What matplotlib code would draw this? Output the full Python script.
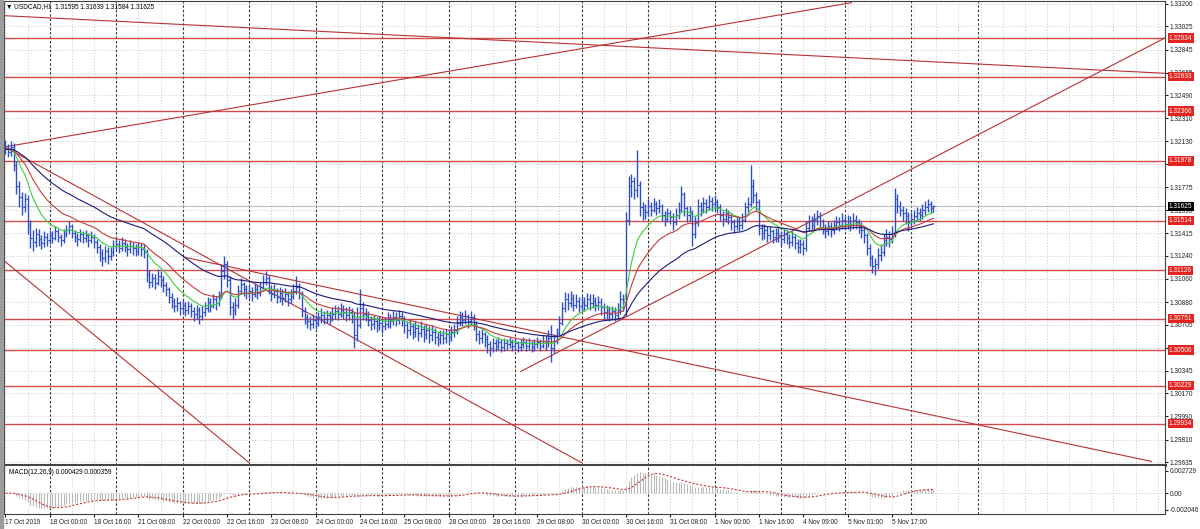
"""
Gráfico USDCAD H1 estilo MetaTrader: barras OHLC, medias, niveles, líneas de tendencia y MACD.

Uso:
    python plot.py
"""

import matplotlib

matplotlib.use("Agg")

import matplotlib.pyplot as plt
import matplotlib.transforms as mtransforms
import numpy as np
import pandas as pd
from matplotlib.patches import Rectangle

plt.rcParams["font.family"] = ["Liberation Sans", "DejaVu Sans"]

# --- Datos (velas H1, índice 0 = 17 Oct 08:00) ---
first_open = 1.3210

closes = [
    1.3207, 1.3205, 1.3209, 1.3195, 1.3178, 1.3170, 1.3162, 1.3168, 1.3148, 1.3138, 1.3135, 1.3141, 1.3137, 1.3134, 1.3139, 1.3136,
    1.3140, 1.3138, 1.3143, 1.3139, 1.3136, 1.3141, 1.3144, 1.3147, 1.3142, 1.3139, 1.3137, 1.3141, 1.3138, 1.3140, 1.3136, 1.3139,
    1.3135, 1.3131, 1.3126, 1.3122, 1.3128, 1.3124, 1.3127, 1.3132, 1.3133, 1.3130, 1.3134, 1.3131, 1.3129, 1.3132, 1.3130, 1.3128,
    1.3131, 1.3129, 1.3127, 1.3110, 1.3104, 1.3107, 1.3103, 1.3108, 1.3105, 1.3101, 1.3098, 1.3092, 1.3089, 1.3085, 1.3087, 1.3083,
    1.3086, 1.3082, 1.3085, 1.3081, 1.3079, 1.3082, 1.3077, 1.3080, 1.3083, 1.3088, 1.3085, 1.3090, 1.3087, 1.3092, 1.3112, 1.3118,
    1.3105, 1.3084, 1.3082, 1.3086, 1.3097, 1.3102, 1.3098, 1.3095, 1.3097, 1.3094, 1.3098, 1.3095, 1.3100, 1.3104, 1.3107, 1.3099,
    1.3094, 1.3097, 1.3092, 1.3095, 1.3091, 1.3094, 1.3090, 1.3093, 1.3097, 1.3100, 1.3095, 1.3081, 1.3076, 1.3073, 1.3071, 1.3074,
    1.3072, 1.3076, 1.3078, 1.3075, 1.3078, 1.3076, 1.3079, 1.3081, 1.3079, 1.3082, 1.3080, 1.3078, 1.3080, 1.3077, 1.3062, 1.3070,
    1.3083, 1.3079, 1.3078, 1.3074, 1.3071, 1.3073, 1.3070, 1.3072, 1.3069, 1.3071, 1.3075, 1.3073, 1.3076, 1.3074, 1.3077, 1.3074,
    1.3070, 1.3066, 1.3069, 1.3065, 1.3068, 1.3064, 1.3067, 1.3063, 1.3066, 1.3062, 1.3065, 1.3061, 1.3059, 1.3062, 1.3060, 1.3063,
    1.3061, 1.3065, 1.3066, 1.3072, 1.3076, 1.3074, 1.3077, 1.3073, 1.3076, 1.3071, 1.3063, 1.3060, 1.3063, 1.3059, 1.3055, 1.3052,
    1.3056, 1.3054, 1.3057, 1.3053, 1.3056, 1.3055, 1.3057, 1.3054, 1.3056, 1.3053, 1.3055, 1.3057, 1.3054, 1.3056, 1.3053, 1.3055,
    1.3057, 1.3054, 1.3058, 1.3056, 1.3060, 1.3052, 1.3058, 1.3064, 1.3072, 1.3083, 1.3090, 1.3087, 1.3091, 1.3086, 1.3089, 1.3085,
    1.3088, 1.3086, 1.3090, 1.3087, 1.3089, 1.3086, 1.3088, 1.3084, 1.3080, 1.3082, 1.3079, 1.3081, 1.3078, 1.3082, 1.3090, 1.3088,
    1.3152, 1.3178, 1.3182, 1.3175, 1.3179, 1.3162, 1.3160, 1.3158, 1.3163, 1.3160, 1.3164, 1.3161, 1.3163, 1.3156, 1.3153, 1.3157,
    1.3154, 1.3150, 1.3156, 1.3160, 1.3172, 1.3161, 1.3156, 1.3158, 1.3141, 1.3150, 1.3163, 1.3160, 1.3165, 1.3162, 1.3167, 1.3164,
    1.3166, 1.3162, 1.3156, 1.3153, 1.3157, 1.3154, 1.3150, 1.3147, 1.3151, 1.3148, 1.3152, 1.3162, 1.3164, 1.3178, 1.3171, 1.3166,
    1.3146, 1.3142, 1.3144, 1.3140, 1.3143, 1.3139, 1.3142, 1.3140, 1.3137, 1.3141, 1.3138, 1.3135, 1.3139, 1.3134, 1.3131, 1.3133,
    1.3130, 1.3146, 1.3151, 1.3148, 1.3152, 1.3155, 1.3151, 1.3146, 1.3143, 1.3147, 1.3144, 1.3148, 1.3150, 1.3148, 1.3152, 1.3149,
    1.3151, 1.3148, 1.3152, 1.3150, 1.3147, 1.3144, 1.3140, 1.3130, 1.3122, 1.3116, 1.3118, 1.3125, 1.3127, 1.3136, 1.3139, 1.3137,
    1.3142, 1.3168, 1.3163, 1.3160, 1.3157, 1.3155, 1.3150, 1.3153, 1.3155, 1.3157, 1.3156, 1.3160, 1.3162, 1.3164, 1.3161, 1.31625,
]

highs = [
    1.3214, 1.3211, 1.3213, 1.3212, 1.3198, 1.3182, 1.3174, 1.3173, 1.3171, 1.3152, 1.3144, 1.3146, 1.3145, 1.3140, 1.3143, 1.3142,
    1.3144, 1.3143, 1.3147, 1.3145, 1.3141, 1.3145, 1.3148, 1.3151, 1.3149, 1.3144, 1.3142, 1.3145, 1.3143, 1.3144, 1.3142, 1.3143,
    1.3141, 1.3137, 1.3133, 1.3129, 1.3132, 1.3131, 1.3131, 1.3136, 1.3138, 1.3136, 1.3139, 1.3137, 1.3134, 1.3136, 1.3135, 1.3133,
    1.3135, 1.3134, 1.3133, 1.3129, 1.3113, 1.3111, 1.3110, 1.3114, 1.3112, 1.3108, 1.3104, 1.3100, 1.3095, 1.3091, 1.3092, 1.3089,
    1.3090, 1.3088, 1.3089, 1.3087, 1.3084, 1.3086, 1.3084, 1.3085, 1.3088, 1.3092, 1.3091, 1.3094, 1.3093, 1.3097, 1.3118, 1.3124,
    1.3120, 1.3108, 1.3088, 1.3091, 1.3101, 1.3107, 1.3104, 1.3101, 1.3102, 1.3100, 1.3103, 1.3101, 1.3104, 1.3109, 1.3112, 1.3109,
    1.3101, 1.3102, 1.3099, 1.3100, 1.3098, 1.3099, 1.3097, 1.3098, 1.3102, 1.3108, 1.3103, 1.3097, 1.3084, 1.3079, 1.3077, 1.3079,
    1.3078, 1.3080, 1.3083, 1.3081, 1.3082, 1.3081, 1.3084, 1.3086, 1.3085, 1.3087, 1.3086, 1.3084, 1.3085, 1.3083, 1.3080, 1.3084,
    1.3098, 1.3088, 1.3083, 1.3081, 1.3077, 1.3078, 1.3076, 1.3077, 1.3075, 1.3076, 1.3080, 1.3079, 1.3081, 1.3080, 1.3082, 1.3080,
    1.3077, 1.3073, 1.3074, 1.3072, 1.3073, 1.3071, 1.3073, 1.3070, 1.3071, 1.3069, 1.3070, 1.3068, 1.3065, 1.3066, 1.3066, 1.3067,
    1.3067, 1.3069, 1.3071, 1.3077, 1.3081, 1.3080, 1.3082, 1.3079, 1.3081, 1.3079, 1.3073, 1.3066, 1.3067, 1.3065, 1.3062, 1.3058,
    1.3060, 1.3059, 1.3061, 1.3059, 1.3060, 1.3059, 1.3061, 1.3059, 1.3060, 1.3058, 1.3059, 1.3061, 1.3059, 1.3060, 1.3058, 1.3059,
    1.3061, 1.3059, 1.3062, 1.3062, 1.3066, 1.3070, 1.3063, 1.3068, 1.3077, 1.3088, 1.3096, 1.3095, 1.3097, 1.3094, 1.3094, 1.3092,
    1.3093, 1.3092, 1.3095, 1.3094, 1.3094, 1.3092, 1.3093, 1.3091, 1.3087, 1.3086, 1.3085, 1.3085, 1.3084, 1.3087, 1.3097, 1.3094,
    1.3158, 1.3186, 1.3188, 1.3185, 1.3206, 1.3182, 1.3166, 1.3164, 1.3168, 1.3166, 1.3169, 1.3167, 1.3168, 1.3164, 1.3159, 1.3161,
    1.3160, 1.3157, 1.3161, 1.3166, 1.3178, 1.3174, 1.3163, 1.3163, 1.3160, 1.3155, 1.3168, 1.3166, 1.3170, 1.3168, 1.3171, 1.3170,
    1.3171, 1.3168, 1.3164, 1.3159, 1.3161, 1.3160, 1.3157, 1.3153, 1.3155, 1.3154, 1.3157, 1.3166, 1.3170, 1.3195, 1.3184, 1.3174,
    1.3168, 1.3149, 1.3149, 1.3147, 1.3147, 1.3145, 1.3146, 1.3146, 1.3143, 1.3145, 1.3144, 1.3141, 1.3143, 1.3141, 1.3137, 1.3137,
    1.3136, 1.3151, 1.3156, 1.3155, 1.3157, 1.3160, 1.3158, 1.3153, 1.3149, 1.3151, 1.3150, 1.3152, 1.3155, 1.3154, 1.3157, 1.3155,
    1.3156, 1.3155, 1.3157, 1.3156, 1.3153, 1.3150, 1.3147, 1.3142, 1.3133, 1.3125, 1.3122, 1.3130, 1.3133, 1.3141, 1.3145, 1.3143,
    1.3147, 1.3177, 1.3172, 1.3167, 1.3163, 1.3161, 1.3158, 1.3158, 1.3160, 1.3162, 1.3161, 1.3164, 1.3167, 1.3168, 1.3167, 1.31639,
]

lows = [
    1.3203, 1.3201, 1.3202, 1.3190, 1.3172, 1.3162, 1.3156, 1.3158, 1.3141, 1.3130, 1.3128, 1.3131, 1.3132, 1.3129, 1.3131, 1.3132,
    1.3133, 1.3134, 1.3136, 1.3135, 1.3132, 1.3134, 1.3139, 1.3141, 1.3138, 1.3135, 1.3132, 1.3135, 1.3134, 1.3135, 1.3131, 1.3134,
    1.3130, 1.3126, 1.3120, 1.3116, 1.3119, 1.3118, 1.3121, 1.3124, 1.3128, 1.3126, 1.3128, 1.3127, 1.3124, 1.3126, 1.3125, 1.3124,
    1.3125, 1.3124, 1.3122, 1.3104, 1.3099, 1.3100, 1.3098, 1.3101, 1.3100, 1.3096, 1.3093, 1.3087, 1.3083, 1.3080, 1.3081, 1.3078,
    1.3079, 1.3077, 1.3079, 1.3076, 1.3073, 1.3075, 1.3071, 1.3074, 1.3077, 1.3080, 1.3080, 1.3083, 1.3082, 1.3085, 1.3090, 1.3106,
    1.3100, 1.3078, 1.3075, 1.3078, 1.3083, 1.3094, 1.3093, 1.3090, 1.3091, 1.3089, 1.3092, 1.3090, 1.3093, 1.3098, 1.3101, 1.3094,
    1.3089, 1.3091, 1.3087, 1.3088, 1.3086, 1.3088, 1.3085, 1.3087, 1.3090, 1.3094, 1.3090, 1.3076, 1.3071, 1.3068, 1.3066, 1.3068,
    1.3067, 1.3069, 1.3072, 1.3071, 1.3072, 1.3071, 1.3073, 1.3075, 1.3074, 1.3076, 1.3075, 1.3073, 1.3074, 1.3072, 1.3052, 1.3058,
    1.3068, 1.3074, 1.3073, 1.3069, 1.3066, 1.3067, 1.3065, 1.3066, 1.3064, 1.3066, 1.3068, 1.3068, 1.3070, 1.3069, 1.3071, 1.3069,
    1.3064, 1.3060, 1.3062, 1.3059, 1.3061, 1.3058, 1.3061, 1.3057, 1.3059, 1.3056, 1.3058, 1.3055, 1.3054, 1.3055, 1.3055, 1.3056,
    1.3056, 1.3058, 1.3061, 1.3063, 1.3069, 1.3069, 1.3071, 1.3068, 1.3070, 1.3066, 1.3058, 1.3055, 1.3056, 1.3053, 1.3048, 1.3046,
    1.3049, 1.3050, 1.3051, 1.3049, 1.3050, 1.3051, 1.3052, 1.3050, 1.3051, 1.3049, 1.3050, 1.3052, 1.3050, 1.3051, 1.3049, 1.3050,
    1.3052, 1.3050, 1.3052, 1.3051, 1.3053, 1.3041, 1.3048, 1.3055, 1.3062, 1.3070, 1.3080, 1.3082, 1.3084, 1.3081, 1.3083, 1.3080,
    1.3081, 1.3081, 1.3083, 1.3082, 1.3083, 1.3081, 1.3082, 1.3078, 1.3074, 1.3075, 1.3073, 1.3074, 1.3073, 1.3075, 1.3079, 1.3081,
    1.3077, 1.3148, 1.3170, 1.3168, 1.3170, 1.3155, 1.3152, 1.3153, 1.3155, 1.3155, 1.3158, 1.3156, 1.3157, 1.3151, 1.3147, 1.3150,
    1.3149, 1.3144, 1.3148, 1.3153, 1.3158, 1.3155, 1.3150, 1.3151, 1.3132, 1.3138, 1.3147, 1.3155, 1.3157, 1.3157, 1.3160, 1.3159,
    1.3160, 1.3157, 1.3151, 1.3147, 1.3150, 1.3149, 1.3144, 1.3142, 1.3144, 1.3143, 1.3145, 1.3150, 1.3158, 1.3162, 1.3165, 1.3160,
    1.3140, 1.3136, 1.3137, 1.3135, 1.3136, 1.3134, 1.3135, 1.3135, 1.3132, 1.3134, 1.3133, 1.3130, 1.3132, 1.3129, 1.3126, 1.3126,
    1.3125, 1.3128, 1.3143, 1.3143, 1.3145, 1.3148, 1.3146, 1.3141, 1.3138, 1.3140, 1.3139, 1.3141, 1.3144, 1.3143, 1.3145, 1.3144,
    1.3145, 1.3143, 1.3145, 1.3145, 1.3142, 1.3138, 1.3134, 1.3125, 1.3116, 1.3111, 1.3109, 1.3114, 1.3120, 1.3124, 1.3132, 1.3131,
    1.3134, 1.3139, 1.3157, 1.3155, 1.3151, 1.3149, 1.3143, 1.3146, 1.3149, 1.3151, 1.3151, 1.3153, 1.3156, 1.3158, 1.3157, 1.31584,
]

time_labels = [
    "17 Oct 2019", "18 Oct 00:00", "18 Oct 16:00", "21 Oct 08:00", "22 Oct 00:00", "22 Oct 16:00",
    "23 Oct 08:00", "24 Oct 00:00", "24 Oct 16:00", "25 Oct 08:00", "28 Oct 00:00", "28 Oct 16:00",
    "29 Oct 08:00", "30 Oct 00:00", "30 Oct 16:00", "31 Oct 08:00", "1 Nov 00:00", "1 Nov 16:00",
    "4 Nov 09:00", "5 Nov 01:00", "5 Nov 17:00",
]
time_label_bars = [0, 16, 32, 48, 64, 80, 96, 112, 128, 144, 160, 176, 192, 208, 224, 240, 256, 272, 288, 304, 320]

# separadores de día (00:00)
day_separator_bars = [16, 40, 64, 88, 112, 136, 160, 184, 208, 232, 256, 280, 303, 327, 351]

price_ticks = [
    1.33200, 1.33025, 1.32845, 1.32665, 1.32490, 1.32310, 1.32130, 1.31955, 1.31775, 1.31595, 1.31415,
    1.31240, 1.31060, 1.30880, 1.30705, 1.30525, 1.30345, 1.30170, 1.29990, 1.29810, 1.29635,
]

# niveles horizontales marcados en rojo
levels = [1.32934, 1.32633, 1.32366, 1.31978, 1.31514, 1.31126, 1.30751, 1.30506, 1.30229, 1.29934]

# líneas de tendencia: (barra inicio, precio inicio, barra fin, precio fin)
trend_lines = [
    (-1.5, 1.3311, 419.0, 1.3266),
    (0.4, 1.3209, 305.4, 1.3321),
    (186.0, 1.3034, 419.0, 1.3294),
    (0.4, 1.3208, 208.0, 1.2963),
    (-1.5, 1.3122, 88.0, 1.2963),
    (64.3, 1.3123, 413.7, 1.2964),
]

last_price = 1.31625
header_text = "\u25bc USDCAD,H1  1.31595 1.31639 1.31584 1.31625"
macd_text = "MACD(12,26,9) 0.000429 0.000359"
macd_ticks = [0.002729, 0.0, -0.002046]
macd_tick_labels = ["0.002729", "0.00", "-0.002046"]

MA_PERIODS = {"fast": 12, "mid": 24, "slow": 50}

FIG_W, FIG_H = 1200, 529
BAR_COLOR = "#2f50c4"
LEVEL_COLOR = "#d24a4a"
TREND_COLOR = "#b83232"
GRID_COLOR = "#c8c8c8"
SEP_COLOR = "#303030"
FONT_SIZE = 4.7


def px_box(left, top, right, bottom):
    """Rectángulo en píxeles -> coordenadas de figura."""
    return [left / FIG_W, 1 - bottom / FIG_H, (right - left) / FIG_W, (bottom - top) / FIG_H]


def compute_indicators(close_series: pd.Series) -> dict:
    ind = {}
    for name, n in MA_PERIODS.items():
        ind[name] = close_series.ewm(span=n, adjust=False).mean()
    macd = close_series.ewm(span=12, adjust=False).mean() - close_series.ewm(span=26, adjust=False).mean()
    ind["macd"] = macd
    ind["signal"] = macd.rolling(9, min_periods=1).mean()
    return ind


def draw_vertical_grid(ax, x_max):
    for b in range(0, x_max, 8):
        ax.axvline(b, color=GRID_COLOR, lw=0.7, ls=(0, (1, 2)), zorder=0)
    for b in day_separator_bars:
        ax.axvline(b, color=SEP_COLOR, lw=0.8, ls=(0, (2, 2)), zorder=1)


def draw_price_panel(ax, idx, opens, ind):
    ax.set_xlim(-0.5, 418.6)
    ax.set_ylim(1.29612, 1.33223)
    draw_vertical_grid(ax, 420)
    for p in price_ticks:
        ax.axhline(p, color=GRID_COLOR, lw=0.7, ls=(0, (1, 2)), zorder=0)

    # niveles y líneas de tendencia
    for lvl in levels:
        ax.axhline(lvl, color=LEVEL_COLOR, lw=1.0, zorder=2)
    for b0, p0, b1, p1 in trend_lines:
        ax.plot([b0, b1], [p0, p1], color=TREND_COLOR, lw=0.8, zorder=2)
    ax.axhline(last_price, color="#c0c0c0", lw=0.8, zorder=1)

    # barras OHLC
    ax.vlines(idx, lows, highs, color=BAR_COLOR, lw=1.0, zorder=3)
    ax.hlines(opens, idx - 0.5, idx, color=BAR_COLOR, lw=0.8, zorder=3)
    ax.hlines(closes, idx, idx + 0.5, color=BAR_COLOR, lw=0.8, zorder=3)

    # medias móviles
    ax.plot(idx, ind["fast"], color="#3ccf3c", lw=0.8, zorder=4)
    ax.plot(idx, ind["mid"], color="#c43c3c", lw=0.8, zorder=4)
    ax.plot(idx, ind["slow"], color="#1c1c78", lw=0.8, zorder=4)

    # eje de precios a la derecha
    ax.yaxis.tick_right()
    ax.set_yticks(price_ticks)
    ax.set_yticklabels([f"{p:.5f}" for p in price_ticks])
    ax.tick_params(axis="y", labelsize=FONT_SIZE, length=2, pad=1.5, colors="#202020")
    ax.tick_params(axis="x", length=0, labelbottom=False)

    blend = mtransforms.blended_transform_factory(ax.transAxes, ax.transData)
    label_tf = mtransforms.offset_copy(blend, fig=ax.figure, x=4, y=0, units="dots")
    for lvl in levels:
        ax.text(1.0, lvl, f"{lvl:.5f}", transform=label_tf, ha="left", va="center",
                fontsize=FONT_SIZE, color="white", clip_on=False, zorder=10,
                bbox=dict(boxstyle="square,pad=0.18", fc="#e2231f", ec="none"))
    ax.text(1.0, last_price, f"{last_price:.5f}", transform=label_tf, ha="left", va="center",
            fontsize=FONT_SIZE, color="white", clip_on=False, zorder=11,
            bbox=dict(boxstyle="square,pad=0.18", fc="black", ec="none"))

    ax.text(0.002, 0.995, header_text, transform=ax.transAxes, ha="left", va="top",
            fontsize=FONT_SIZE, color="black", zorder=12)

    for side in ("top", "left", "right"):
        ax.spines[side].set_color("#404040")
        ax.spines[side].set_linewidth(0.8)
    ax.spines["bottom"].set_color("#454545")
    ax.spines["bottom"].set_linewidth(2.2)


def draw_macd_panel(ax, idx, ind):
    ax.set_ylim(-0.00255, 0.0033)
    draw_vertical_grid(ax, 420)
    ax.axhline(0.0, color=GRID_COLOR, lw=0.7, ls=(0, (1, 2)), zorder=0)

    ax.vlines(idx, 0.0, ind["macd"], color="#b8b8b8", lw=0.8, zorder=2)
    ax.plot(idx, ind["signal"], color="#c83c3c", lw=0.8, ls=(0, (2, 1.5)), zorder=3)

    ax.yaxis.tick_right()
    ax.set_yticks(macd_ticks)
    ax.set_yticklabels(macd_tick_labels)
    ax.tick_params(axis="y", labelsize=FONT_SIZE, length=2, pad=1.5, colors="#202020")

    ax.set_xticks(time_label_bars)
    ax.set_xticklabels(time_labels)
    ax.tick_params(axis="x", labelsize=FONT_SIZE, length=2, pad=1.5, colors="#202020")
    for lbl in ax.get_xticklabels():
        lbl.set_ha("left")

    ax.text(0.004, 0.93, macd_text, transform=ax.transAxes, ha="left", va="top",
            fontsize=FONT_SIZE, color="black", zorder=12)

    ax.spines["top"].set_visible(False)
    for side in ("bottom", "left", "right"):
        ax.spines[side].set_color("#404040")
        ax.spines[side].set_linewidth(0.8)


def main():
    idx = np.arange(len(closes))
    opens = [first_open] + closes[:-1]
    ind = compute_indicators(pd.Series(closes))

    fig = plt.figure(figsize=(FIG_W / 100, FIG_H / 100), dpi=100, facecolor="white")
    main_ax = fig.add_axes(px_box(4, 1, 1165, 465))
    macd_ax = fig.add_axes(px_box(4, 466, 1165, 514), sharex=main_ax)

    draw_price_panel(main_ax, idx, opens, ind)
    draw_macd_panel(macd_ax, idx, ind)

    # borde gris a la izquierda como en la ventana del terminal
    fig.patches.append(Rectangle((0, 0), 3 / FIG_W, 1, transform=fig.transFigure,
                                 color="#9c9c9c", zorder=0))

    fig.savefig("out.png", dpi=100, facecolor="white")
    plt.close(fig)


if __name__ == "__main__":
    main()
